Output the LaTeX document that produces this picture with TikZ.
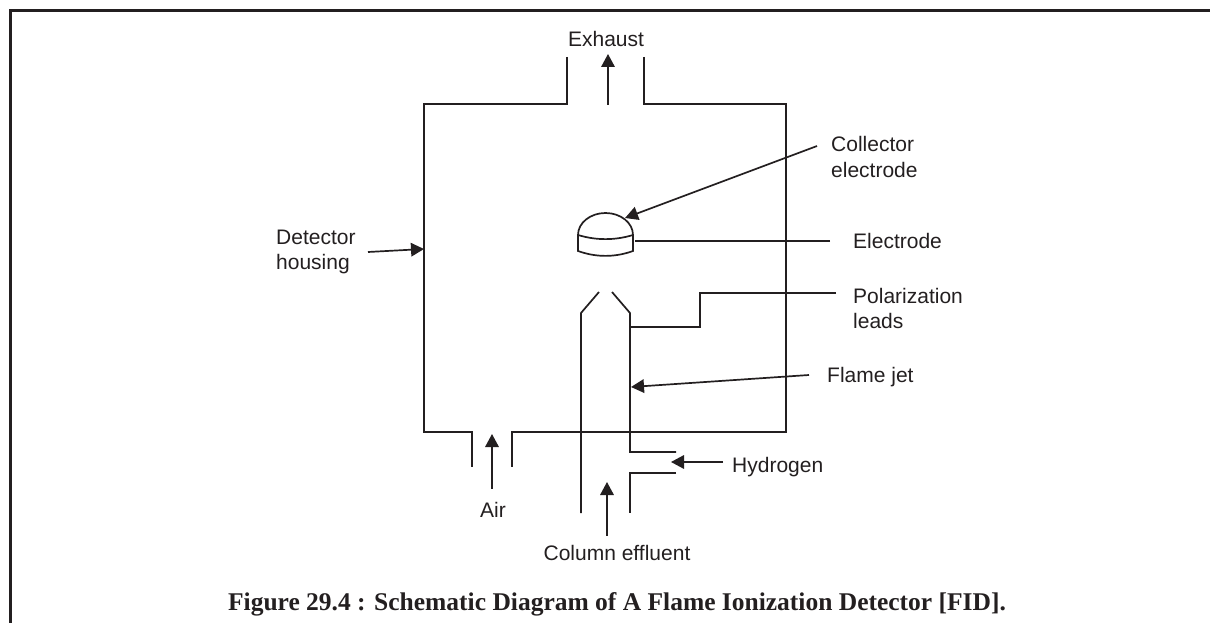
\documentclass[tikz,border=0pt]{standalone}
\usepackage{fontspec}
\setmainfont{Liberation Sans}
\newfontfamily\capfont{Liberation Serif}
\usetikzlibrary{arrows.meta}
\definecolor{inkdark}{HTML}{231F20}
\tikzstyle{lbl} = [inner sep=0pt, align=left, font=\fontsize{21}{25}\selectfont]
\tikzstyle{wall} = [line width=1.7pt, line join=miter]
\tikzstyle{arrow} = [line width=1.7pt, -{Stealth[length=13pt, width=13.5pt, inset=0pt]}]
\tikzstyle{lead} = [line width=1.7pt]
\begin{document}
\begin{tikzpicture}[x=1pt, y=-1pt, color=inkdark]
    \useasboundingbox (0,0) rectangle (1210,623);
    % frame
    \draw [line width=3pt] (10,623) -- (10,11) -- (1210,11);

    % labels
    \node (exhaust)    [lbl, anchor=base] at (606,47) {Exhaust};
    \node (collector)  [lbl, anchor=base west] at (831,177) {Collector\\electrode};
    \node (electrode)  [lbl, anchor=base west] at (853,248) {Electrode};
    \node (polar)      [lbl, anchor=base west] at (853,328) {Polarization\\leads};
    \node (flame)      [lbl, anchor=base west] at (827,382) {Flame jet};
    \node (hydrogen)   [lbl, anchor=base west] at (732,472) {Hydrogen};
    \node (housing)    [lbl, anchor=base west] at (276,269) {Detector\\housing};
    \node (air)        [lbl, anchor=base] at (493,517) {Air};
    \node (column)     [lbl, anchor=base] at (617,560) {Column effluent};
    \node (caption)    [inner sep=0pt, anchor=base, font=\capfont\bfseries\fontsize{25.5}{30}\selectfont]
      at (617,610) {Figure 29.4 : Schematic Diagram of A Flame Ionization Detector [FID].};

    % housing
    \draw [wall] (567,57) -- (567,104) -- (424,104) -- (424,432) -- (472,432) -- (472,467);
    \draw [wall] (644,57) -- (644,104) -- (786,104) -- (786,432) -- (512,432) -- (512,467);

    % jet
    \draw [wall] (599,292) -- (581,313) -- (581,513);
    \draw [wall] (612,292) -- (630,313) -- (630,452) -- (676,452);
    \draw [wall] (676,473) -- (630,473) -- (630,513);

    % electrode
    \draw [wall] (578,235) arc [start angle=180, end angle=360, x radius=27.5, y radius=22];
    \draw [wall] (578,235) .. controls (596,240.5) and (615,240.5) .. (633,235);
    \draw [wall] (578,235) -- (578,251) .. controls (596,257.5) and (615,257.5) .. (633,251) -- (633,235);

    % points on the shapes
    \coordinate (collectortail) at (817,146);
    \coordinate (collectortip)  at (625,218);
    \coordinate (housingtail)   at (368,252);
    \coordinate (housingtip)    at (424,249);
    \coordinate (flametail)     at (809,375);
    \coordinate (flametip)      at (631,387);
    \coordinate (hydrogentip)   at (671,462);
    \coordinate (exhausttail)   at (608,105);
    \coordinate (exhausttip)    at (608,54);
    \coordinate (airtip)        at (492,434);
    \coordinate (columntip)     at (607,482);
    \coordinate (electrodeend)  at (635,241);
    \coordinate (polarend)      at (630,327);
    \coordinate (polarbend)     at (700,293);

    \draw [arrow] (collectortail) -- (collectortip);
    \draw [arrow] (housingtail)   -- (housingtip);
    \draw [arrow] (flametail)     -- (flametip);
    \draw [arrow, shorten <=9pt] (hydrogen.west |- hydrogentip) -- (hydrogentip);
    \draw [arrow] (exhausttail)   -- (exhausttip);
    \draw [arrow, shorten <=13pt] (airtip |- air.north)    -- (airtip);
    \draw [arrow, shorten <=9pt] (columntip |- column.north) -- (columntip);
    \draw [lead, shorten <=23pt] (electrode.west |- electrodeend) -- (electrodeend);
    \draw [lead, shorten <=17pt] (polar.west |- polarbend) -- (polarbend) -- (polarbend |- polarend) -- (polarend);
  \end{tikzpicture}
\end{document}
